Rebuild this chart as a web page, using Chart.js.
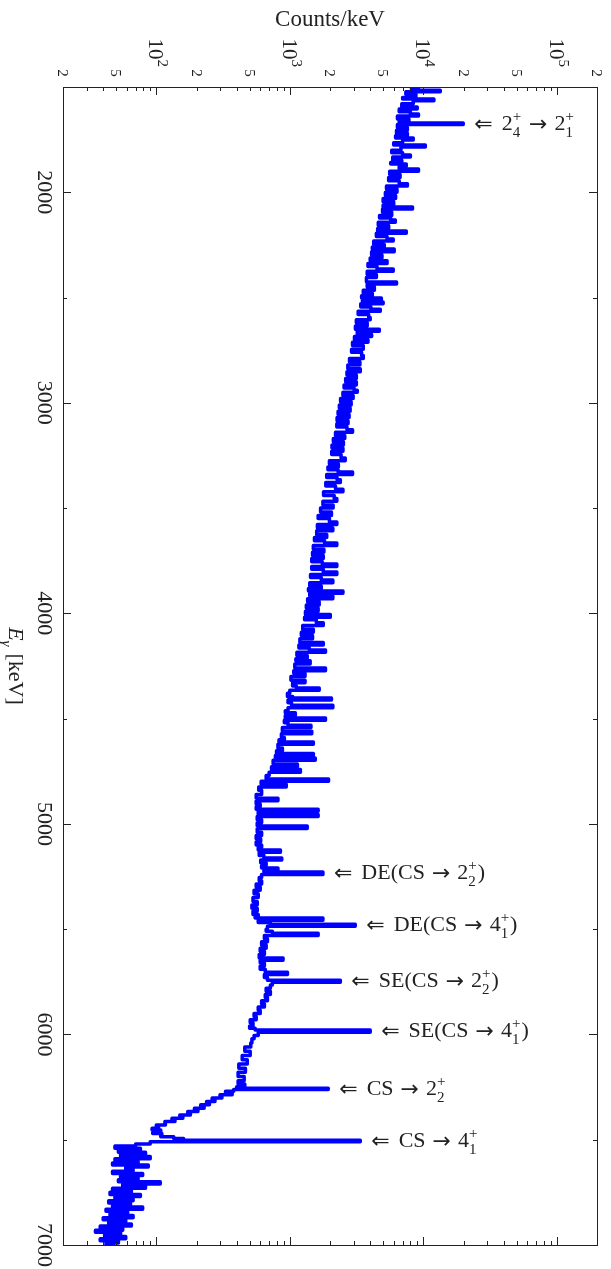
<!DOCTYPE html>
<html>
<head>
<meta charset="utf-8">
<script src="https://cdn.jsdelivr.net/npm/chart.js@4.4.1/dist/chart.umd.min.js"></script>
<style>
  html, body { margin: 0; padding: 0; background: #fff; }
  #wrap { width: 611px; height: 1269px; position: relative; }
</style>
</head>
<body>
<div id="wrap"><canvas id="spectrum"></canvas></div>
<script>
// gamma spectrum, energy runs down the page, counts (log) across
const energies = [
  1500,1508,1515,1522,1535,1550,1557,1565,1580,1595,
  1605,1618,1628,1638,1652,1664,1671,1678,1692,1705,
  1720,1732,1742,1752,1765,1775,1785,1800,1812,1823,
  1833,1848,1858,1866,1876,1890,1900,1915,1930,1945,
  1960,1970,1985,2000,2015,2030,2045,2060,2070,2080,
  2095,2110,2122,2132,2142,2158,2172,2184,2195,2210,
  2222,2232,2248,2260,2270,2282,2298,2312,2325,2338,
  2352,2365,2375,2390,2405,2426,2436,2450,2465,2480,
  2492,2502,2510,2521,2530,2545,2555,2565,2580,2595,
  2605,2620,2635,2650,2660,2675,2685,2700,2712,2728,
  2745,2760,2775,2790,2805,2820,2838,2852,2868,2885,
  2900,2915,2930,2940,2950,2965,2980,2995,3010,3025,
  3040,3055,3070,3085,3100,3115,3128,3140,3155,3170,
  3185,3200,3215,3230,3245,3262,3275,3290,3305,3318,
  3329,3340,3355,3365,3378,3395,3410,3422,3440,3455,
  3468,3485,3500,3518,3535,3550,3566,3578,3595,3608,
  3625,3640,3655,3666,3678,3695,3710,3725,3740,3755,
  3766,3778,3790,3804,3815,3830,3842,3855,3870,3882,
  3894,3905,3918,3930,3945,3960,3975,3990,4005,4018,
  4030,4045,4058,4075,4090,4105,4120,4138,4150,4165,
  4174,4185,4200,4215,4225,4240,4260,4272,4285,4300,
  4318,4330,4345,4355,4365,4380,4395,4402,4412,4425,
  4436,4448,4462,4472,4485,4497,4508,4520,4532,4542,
  4560,4572,4590,4600,4611,4622,4640,4652,4665,4675,
  4687,4698,4715,4728,4742,4755,4770,4787,4797,4812,
  4825,4840,4860,4878,4890,4905,4918,4930,4940,4955,
  4965,4980,4995,5010,5022,5040,5055,5070,5085,5100,
  5112,5124,5135,5150,5162,5172,5185,5198,5210,5220,
  5229,5240,5255,5270,5285,5300,5315,5332,5350,5368,
  5385,5400,5415,5430,5440,5447,5458,5468,5476,5486,
  5500,5510,5519,5530,5545,5560,5575,5590,5605,5620,
  5637,5648,5660,5675,5690,5704,5715,5730,5742,5752,
  5765,5780,5795,5810,5825,5840,5855,5870,5885,5900,
  5915,5930,5945,5960,5970,5979,5990,6005,6020,6040,
  6060,6080,6100,6120,6140,6160,6180,6200,6220,6235,
  6248,6255,6262,6270,6278,6286,6294,6302,6310,6318,
  6326,6334,6342,6350,6358,6366,6374,6382,6390,6398,
  6406,6414,6422,6430,6438,6446,6454,6462,6470,6478,
  6486,6494,6502,6510,6520,6530,
  6540,6550,6560,6570,6580,6590,6600,6610,6620,6630,
  6640,6650,6660,6670,6680,6690,6700,6710,6720,6730,
  6740,6750,6760,6770,6780,6790,6800,6810,6820,6830,
  6840,6850,6860,6870,6880,6890,6900,6910,6920,6930,
  6940,6950,6960,6970,6980,6990,7000
];
const counts = [
  8150,9200,13400,7400,8800,7000,12000,8400,6900,9000,
  6600,8000,9200,6400,7800,6600,19900,6400,7600,6300,
  7600,6200,8400,7000,6000,10350,6800,5800,7000,8000,
  5900,6900,5700,7450,6600,9200,5600,6700,5500,6600,
  7600,5300,6350,5200,6200,5000,6000,5000,8300,4950,
  5800,4700,5700,6170,4600,5500,4550,7450,4450,5350,
  5950,4250,5100,4150,6050,4100,4900,4000,5350,3850,
  4500,5950,3800,4450,3750,6300,3800,4300,3550,4150,
  3450,4850,3500,5000,3400,4050,4760,3250,3900,4000,
  3150,3800,3100,4680,3200,4100,3050,3850,2950,3550,
  2900,3450,3550,2800,3350,2720,3370,2680,3150,2620,
  3150,2550,3030,3200,2500,2980,2400,2880,2350,2830,
  2300,2780,2260,2730,2250,2680,2950,2200,2580,2120,
  2520,2070,2500,2060,2420,2600,1980,2310,1930,2300,
  2950,1890,2260,2390,1860,2200,2500,1790,2150,2250,
  1770,2110,1700,2050,1630,1980,2250,1610,2100,1590,
  1890,1530,1820,2250,1500,1800,1480,1780,1460,1750,
  2250,1460,1780,2250,1430,1720,2100,1410,1720,1380,
  2500,1410,2100,1360,1660,1330,1630,1310,2010,1290,
  1580,1780,1250,1500,1220,1480,1190,1780,1170,1400,
  1850,1130,1350,1110,1420,1090,1850,1070,1300,1020,
  1300,1050,1120,1660,1000,960,1050,2050,970,1030,
  2100,970,925,1100,925,1850,910,970,1440,880,
  1460,865,910,830,1500,815,880,795,1500,780,
  1550,750,1140,730,1200,700,665,1950,610,940,
  585,615,560,815,560,600,560,1630,580,1630,
  570,615,570,1350,570,615,560,605,560,615,
  580,850,590,640,870,605,665,615,815,640,
  1770,615,590,615,560,600,540,580,530,570,
  520,570,530,580,550,1770,580,715,3090,680,
  665,740,1630,645,680,615,665,600,645,590,
  890,600,645,600,655,960,645,680,2390,740,
  715,665,715,655,680,615,645,580,600,540,
  560,505,530,500,550,4000,580,540,520,510,
  460,505,440,480,415,465,410,455,410,460,
  400,1940,380,330,370,300,310,262,275,238,
  250,215,228,193,205,172,180,150,158,131,
  138,116,117,100,104,93,108,94,110,108,
  135,160,3370,90,70,49,
  76,52,83,54,90,49,73,47,87,59,
  67,47,79,54,73,52,107,56,83,47,
  65,45,76,49,67,44,64,47,79,42,
  61,45,67,40,59,44,65,38,56,35,
  54,41,59,38,52,42,49
];

// axis ranges and tick labels
const countMin = 20, countMax = 200000;
const energyMin = 1500, energyMax = 7000;
const decadeTicks = [100, 1000, 10000, 100000];
const decadeExps = ['2', '3', '4', '5'];
const minorCountTicks = [20, 50, 200, 500, 2000, 5000, 20000, 50000, 200000];
const minorCountText = ['2', '5', '2', '5', '2', '5', '2', '5', '2'];
const energyTicks = [2000, 3000, 4000, 5000, 6000, 7000];
const energyHalfTicks = [2500, 3500, 4500, 5500, 6500];

// peak labels
const peakEnergies = [1671, 5229, 5476, 5742, 5979, 6255, 6502];
const peakCounts = [19900, 1770, 3090, 2390, 4000, 1940, 3370];
const peakLabels = [
  [{sym: '⇐'}, {gap: 9}, '2', {sub: '4', sup: '+'}, {gap: 7}, {sym: '→'}, {gap: 7}, '2', {sub: '1', sup: '+'}],
  [{sym: '⇐'}, {gap: 9}, 'DE(CS', {gap: 7}, {sym: '→'}, {gap: 7}, '2', {sub: '2', sup: '+'}, ')'],
  [{sym: '⇐'}, {gap: 9}, 'DE(CS', {gap: 7}, {sym: '→'}, {gap: 7}, '4', {sub: '1', sup: '+'}, ')'],
  [{sym: '⇐'}, {gap: 9}, 'SE(CS', {gap: 7}, {sym: '→'}, {gap: 7}, '2', {sub: '2', sup: '+'}, ')'],
  [{sym: '⇐'}, {gap: 9}, 'SE(CS', {gap: 7}, {sym: '→'}, {gap: 7}, '4', {sub: '1', sup: '+'}, ')'],
  [{sym: '⇐'}, {gap: 9}, 'CS', {gap: 7}, {sym: '→'}, {gap: 7}, '2', {sub: '2', sup: '+'}],
  [{sym: '⇐'}, {gap: 9}, 'CS', {gap: 7}, {sym: '→'}, {gap: 7}, '4', {sub: '1', sup: '+'}]
];

const FONT = '"Liberation Serif", "DejaVu Serif", serif';
const SYM_FONT = '"DejaVu Sans", sans-serif';
const INK = '#222';

function setFont(ctx, size, italic) {
  ctx.font = (italic ? 'italic ' : '') + size + 'px ' + FONT;
}

function partWidth(ctx, p, size) {
  if (typeof p === 'string') { setFont(ctx, size); return ctx.measureText(p).width; }
  if (p.gap) return p.gap;
  if (p.sym) { ctx.font = size + 'px ' + SYM_FONT; return ctx.measureText(p.sym).width; }
  if (p.it) { setFont(ctx, size, true); return ctx.measureText(p.it).width; }
  setFont(ctx, Math.round(size * 0.7), p.italic);
  return Math.max(ctx.measureText(p.sub || '').width, ctx.measureText(p.sup || '').width) + 1;
}

function partsWidth(ctx, parts, size) {
  return parts.reduce((w, p) => w + partWidth(ctx, p, size), 0);
}

// draws a run of text with stacked sub/superscripts, alphabetic baseline
function drawParts(ctx, parts, x, base, size) {
  ctx.textAlign = 'left';
  ctx.textBaseline = 'alphabetic';
  for (const p of parts) {
    const w = partWidth(ctx, p, size);
    if (typeof p === 'string') ctx.fillText(p, x, base);
    else if (p.sym) ctx.fillText(p.sym, x, base + 1);
    else if (p.it) ctx.fillText(p.it, x, base);
    else if (!p.gap) {
      if (p.sup) ctx.fillText(p.sup, x, base - size * 0.42);
      if (p.sub) ctx.fillText(p.sub, x, base + size * 0.3);
    }
    x += w;
  }
  return x;
}

const axesPlugin = {
  id: 'axesPlugin',
  afterDatasetsDraw(chart) {
    const { ctx, chartArea: a, scales: { x, y } } = chart;
    ctx.save();
    ctx.strokeStyle = INK;
    ctx.fillStyle = INK;
    ctx.lineWidth = 1;

    // frame
    ctx.strokeRect(a.left + 0.5, a.top + 0.5, a.right - a.left, a.bottom - a.top);

    // log ticks, inward on top and bottom
    ctx.beginPath();
    for (let d = 10; d <= 100000; d *= 10) {
      for (let m = 1; m <= 9; m++) {
        const v = d * m;
        if (v <= countMin || v >= countMax) continue;
        const px = Math.round(x.getPixelForValue(v)) + 0.5;
        const len = m === 1 ? 8 : 4;
        ctx.moveTo(px, a.top); ctx.lineTo(px, a.top + len);
        ctx.moveTo(px, a.bottom); ctx.lineTo(px, a.bottom - len);
      }
    }
    // energy ticks, inward on left and right
    energyTicks.concat(energyHalfTicks).forEach(e => {
      if (e >= energyMax) return;
      const py = Math.round(y.getPixelForValue(e)) + 0.5;
      const len = e % 1000 === 0 ? 8 : 4;
      ctx.moveTo(a.left, py); ctx.lineTo(a.left + len, py);
      ctx.moveTo(a.right, py); ctx.lineTo(a.right - len, py);
    });
    ctx.stroke();

    // rotated tick labels (page is turned clockwise)
    const rot = (px, py, fn) => {
      ctx.save(); ctx.translate(px, py); ctx.rotate(Math.PI / 2); fn(); ctx.restore();
    };

    minorCountTicks.forEach((v, i) => {
      rot(x.getPixelForValue(v), a.top - 14, () => {
        setFont(ctx, 15);
        ctx.textAlign = 'center'; ctx.textBaseline = 'alphabetic';
        ctx.fillText(minorCountText[i], 0, 5);
      });
    });

    decadeTicks.forEach((v, i) => {
      rot(x.getPixelForValue(v), a.top - 19, () => {
        const parts = ['10', {sup: decadeExps[i]}];
        const w = partsWidth(ctx, parts, 21);
        drawParts(ctx, parts, -w, 7, 21);
      });
    });

    energyTicks.forEach(e => {
      rot(a.left - 18, y.getPixelForValue(e), () => {
        setFont(ctx, 22);
        ctx.textAlign = 'center'; ctx.textBaseline = 'alphabetic';
        ctx.fillText(String(e), 0, 7);
      });
    });

    // axis titles
    rot(16, (a.top + a.bottom) / 2, () => {
      const parts = [{it: 'E'}, {sub: 'γ', italic: true}, {gap: 6}, '[keV]'];
      const w = partsWidth(ctx, parts, 22);
      drawParts(ctx, parts, -w / 2, 7, 22);
    });
    setFont(ctx, 23);
    ctx.textAlign = 'center'; ctx.textBaseline = 'alphabetic';
    ctx.fillText('Counts/keV', (a.left + a.right) / 2, 26);

    // peak annotations
    peakLabels.forEach((parts, i) => {
      const px = x.getPixelForValue(peakCounts[i]) + 11;
      const py = y.getPixelForValue(peakEnergies[i]);
      drawParts(ctx, parts, px, py + 7, 22);
    });

    ctx.restore();
  }
};

new Chart(document.getElementById('spectrum'), {
  type: 'scatter',
  data: {
    datasets: [{
      data: energies.map((e, i) => ({ x: counts[i], y: e })),
      showLine: true,
      stepped: 'after',
      borderColor: '#0000ff',
      borderWidth: 3.5,
      borderJoinStyle: 'round',
      pointRadius: 0
    }]
  },
  options: {
    responsive: true,
    maintainAspectRatio: false,
    animation: false,
    devicePixelRatio: 1,
    layout: { padding: { left: 63, top: 87, right: 14, bottom: 24 } },
    plugins: { legend: { display: false }, tooltip: { enabled: false } },
    scales: {
      x: { type: 'logarithmic', display: false, min: countMin, max: countMax },
      y: { type: 'linear', display: false, min: energyMin, max: energyMax, reverse: true }
    }
  },
  plugins: [axesPlugin]
});
</script>
</body>
</html>
